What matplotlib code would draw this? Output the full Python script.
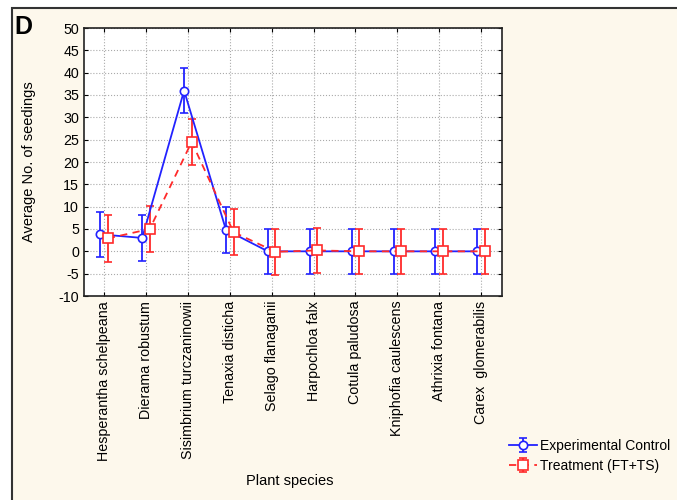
import numpy as np
import matplotlib
matplotlib.use("Agg")
from matplotlib import pyplot as plt
from matplotlib.patches import Rectangle

plt.rcParams["font.family"] = ["Liberation Sans", "DejaVu Sans"]
plt.rcParams["axes.unicode_minus"] = False

species = ["Hesperantha schelpeana", "Dierama robustum", "Sisimbrium turczaninowii",
           "Tenaxia disticha", "Selago flanaganii", "Harpochloa falx", "Cotula paludosa",
           "Kniphofia caulescens", "Athrixia fontana", "Carex  glomerabilis"]
control_mean = [3.8, 3.0, 36.0, 4.8, 0.0, 0.0, 0.0, 0.0, 0.0, 0.0]
control_err = [5.1, 5.2, 5.0, 5.1, 5.1, 5.0, 5.0, 5.0, 5.0, 5.0]
treat_mean = [2.9, 5.0, 24.5, 4.3, -0.1, 0.2, 0.0, 0.0, 0.0, 0.0]
treat_err = [5.2, 5.1, 5.2, 5.2, 5.2, 5.1, 5.1, 5.1, 5.1, 5.1]
yticks = list(range(-10, 51, 5))

BG = "#fdf8ec"
BLUE = "#2222ff"
RED = "#ff2a2a"

fig = plt.figure(figsize=(6.77, 5), dpi=100)
fig.patch.set_facecolor("white")
# panel frame
fig.patches.append(Rectangle((12 / 677, -0.1), 1.2, 1.1 - 8 / 500, transform=fig.transFigure,
                             facecolor=BG, edgecolor="#333333", linewidth=1.5, zorder=-5))

ax = fig.add_axes([84 / 677, 1 - 296 / 500, (502 - 84) / 677, (296 - 28) / 500])
ax.set_facecolor("white")

x = np.arange(len(species))
h1 = ax.errorbar(x - 0.09, control_mean, yerr=control_err, color=BLUE, marker="o", ms=6,
                 mfc="white", mec=BLUE, mew=1.2, lw=1.3, capsize=3, elinewidth=1.3,
                 label="Experimental Control")
h2 = ax.errorbar(x + 0.09, treat_mean, yerr=treat_err, color=RED, marker="s", ms=7,
                 mfc="white", mec=RED, mew=1.2, lw=1.3, ls=(0, (4, 3)), capsize=3,
                 elinewidth=1.3, label="Treatment (FT+TS)")

ax.set_xlim(-0.48, 9.5)
ax.set_ylim(-10, 50)
ax.set_yticks(yticks)
ax.set_xticks(x)
ax.set_xticklabels(species, rotation=90, fontsize=10.3)
ax.tick_params(axis="y", labelsize=10.3)
ax.tick_params(direction="in", top=True, right=True, length=3)
ax.grid(True, linestyle=":", color="#aaaaaa", linewidth=0.8)
for s in ax.spines.values():
    s.set_color("#222222")
    s.set_linewidth(1.2)

ax.set_ylabel("Average No. of seedings", fontsize=10.5)
ax.yaxis.set_label_coords(-0.115, 0.5)
fig.text(290 / 677, 1 - 481 / 500, "Plant species", ha="center", va="center", fontsize=10.5)
fig.text(14 / 677, 1 - 27 / 500, "D", fontsize=18, fontweight="bold", ha="left", va="center")

leg = fig.legend(handles=[h1, h2], loc="upper left", bbox_to_anchor=(502 / 677, 1 - 432 / 500),
                 frameon=False, fontsize=10, handlelength=2.0, handletextpad=0.2,
                 labelspacing=0.45, borderpad=0)

fig.savefig("out.png", dpi=100, facecolor=fig.get_facecolor())
